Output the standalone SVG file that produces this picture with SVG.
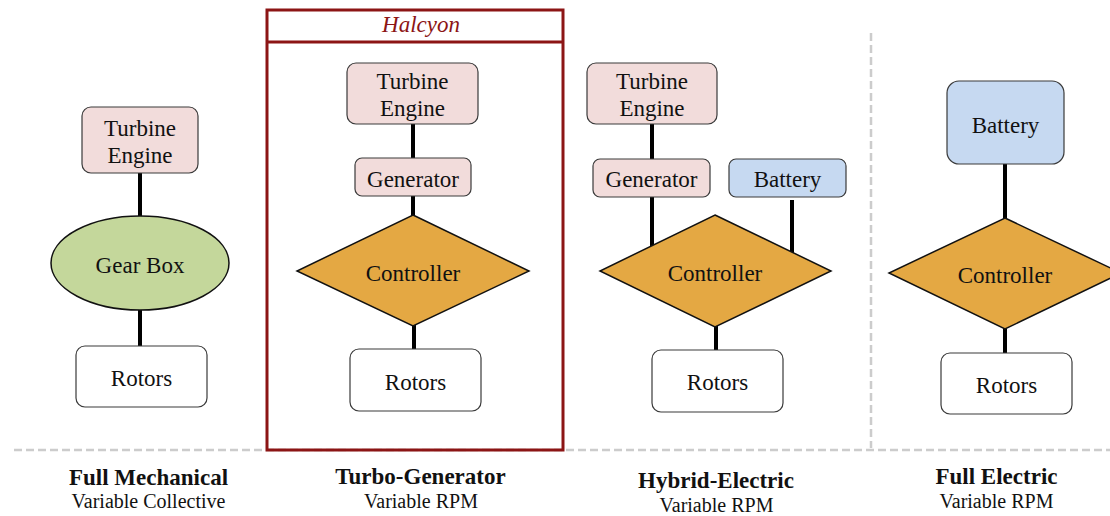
<svg xmlns="http://www.w3.org/2000/svg" width="1110" height="516" viewBox="0 0 1110 516">
<style>
text{font-family:'Liberation Serif','DejaVu Serif',serif;fill:#111;text-anchor:middle}
.n{font-size:23px}
.t{font-size:23px;font-weight:bold}
.s{font-size:20px}
.pink{fill:#f2dcdb;stroke:#3a3a3a;stroke-width:1.2}
.blue{fill:#c6d9f1;stroke:#3a3a3a;stroke-width:1.2}
.white{fill:#fff;stroke:#3a3a3a;stroke-width:1.2}
.dia{fill:#e4a843;stroke:#111;stroke-width:1.5}
.gb{fill:#c4d79b;stroke:#111;stroke-width:1.5}
.c{stroke:#000;stroke-width:4;fill:none}
.dash{stroke:#cccccc;stroke-width:2.5;stroke-dasharray:8 4;fill:none}
</style>
<g font-family="Liberation Serif, DejaVu Serif, serif">
<g id="separators">
<line class="dash" x1="14" y1="450" x2="1110" y2="450"/>
<line class="dash" x1="871" y1="33" x2="871" y2="448"/>
</g>
<g id="halcyon-frame">
<rect x="267" y="10" width="296" height="440" fill="none" stroke="#8c1515" stroke-width="3"/>
<line x1="267" y1="42" x2="563" y2="42" stroke="#8c1515" stroke-width="3"/>
<text x="421" y="32" class="n" style="font-style:italic;fill:#8c1515">Halcyon</text>
</g>
<g id="connectors">
<line class="c" x1="140" y1="173" x2="140" y2="216"/>
<line class="c" x1="140" y1="310" x2="140" y2="346"/>
<line class="c" x1="413" y1="124" x2="413" y2="158"/>
<line class="c" x1="413" y1="196" x2="413" y2="216"/>
<line class="c" x1="414" y1="325" x2="414" y2="349"/>
<line class="c" x1="652" y1="124" x2="652" y2="159"/>
<line class="c" x1="652" y1="197" x2="652" y2="246"/>
<line class="c" x1="792" y1="200" x2="792" y2="253"/>
<line class="c" x1="716" y1="326" x2="716" y2="350"/>
<line class="c" x1="1005" y1="164" x2="1005" y2="219"/>
<line class="c" x1="1005" y1="328" x2="1005" y2="353"/>
</g>
<g id="fm-turbine"><rect class="pink" x="82" y="107" width="116" height="66" rx="9"/><text class="n" x="140" y="136">Turbine</text><text class="n" x="140" y="163">Engine</text></g>
<g id="fm-gearbox"><ellipse class="gb" cx="140" cy="263" rx="89" ry="47"/><text class="n" x="140" y="273">Gear Box</text></g>
<g id="fm-rotors"><rect class="white" x="76" y="346" width="131" height="61" rx="9"/><text class="n" x="141.5" y="386">Rotors</text></g>
<g id="tg-turbine"><rect class="pink" x="347" y="63" width="131" height="61" rx="9"/><text class="n" x="412.5" y="89">Turbine</text><text class="n" x="412.5" y="116">Engine</text></g>
<g id="tg-generator"><rect class="pink" x="355" y="158" width="116" height="38" rx="7"/><text class="n" x="413" y="187">Generator</text></g>
<g id="tg-controller"><polygon class="dia" points="413,215 529,271 413,326 297,271"/><text class="n" x="413" y="281">Controller</text></g>
<g id="tg-rotors"><rect class="white" x="350" y="349" width="131" height="62" rx="9"/><text class="n" x="415.5" y="390">Rotors</text></g>
<g id="he-turbine"><rect class="pink" x="587" y="63" width="130" height="61" rx="9"/><text class="n" x="652" y="89">Turbine</text><text class="n" x="652" y="116">Engine</text></g>
<g id="he-generator"><rect class="pink" x="593" y="159" width="117" height="38" rx="7"/><text class="n" x="651.5" y="187">Generator</text></g>
<g id="he-battery"><rect class="blue" x="729" y="159" width="117" height="38" rx="7"/><text class="n" x="787.5" y="187">Battery</text></g>
<g id="he-controller"><polygon class="dia" points="715,215 831,271 715,327 600,271"/><text class="n" x="715" y="281">Controller</text></g>
<g id="he-rotors"><rect class="white" x="652" y="350" width="131" height="62" rx="9"/><text class="n" x="717.5" y="390">Rotors</text></g>
<g id="fe-battery"><rect class="blue" x="947" y="81" width="117" height="83" rx="12"/><text class="n" x="1005.5" y="133">Battery</text></g>
<g id="fe-controller"><polygon class="dia" points="1005,218 1121,273 1005,329 889,273"/><text class="n" x="1005" y="283">Controller</text></g>
<g id="fe-rotors"><rect class="white" x="941" y="353" width="131" height="61" rx="9"/><text class="n" x="1006.5" y="393">Rotors</text></g>
<g id="labels">
<text class="t" x="148.5" y="485">Full Mechanical</text>
<text class="s" x="148.5" y="508">Variable Collective</text>
<text class="t" x="420.5" y="484">Turbo-Generator</text>
<text class="s" x="421" y="508">Variable RPM</text>
<text class="t" x="716" y="488">Hybrid-Electric</text>
<text class="s" x="716.5" y="512">Variable RPM</text>
<text class="t" x="996.5" y="484">Full Electric</text>
<text class="s" x="996.5" y="508">Variable RPM</text>
</g>
</g>
</svg>
